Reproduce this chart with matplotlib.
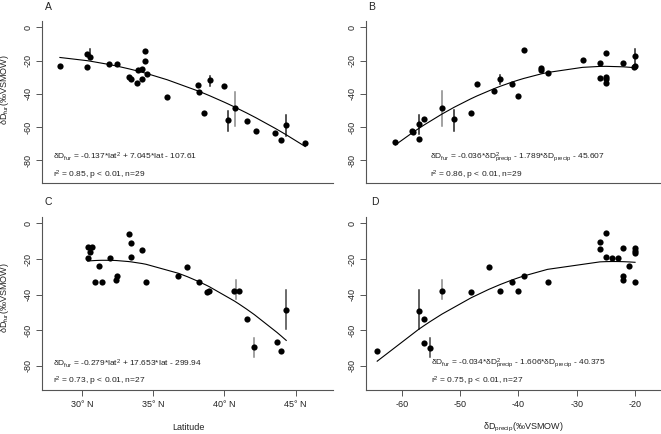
import numpy as np
import matplotlib
matplotlib.use('Agg')
import matplotlib.pyplot as plt

plt.rcParams['font.family'] = ['Liberation Sans', 'DejaVu Sans']
plt.rcParams['mathtext.default'] = 'regular'
plt.rcParams['axes.unicode_minus'] = False

# panel A: latitude vs dD fur
lat_a = [28.43, 30.31, 30.35, 30.54, 31.9, 32.46, 33.3, 33.4, 33.83, 33.94,
         34.18, 34.2, 34.41, 34.41, 34.53, 35.98, 38.16, 38.23, 38.58, 38.95,
         40.0, 40.26, 40.73, 41.55, 42.2, 43.52, 43.94, 44.34, 45.68]
fur_a = [-22.9, -23.8, -15.9, -17.9, -21.8, -21.8, -29.8, -31.0, -33.3, -25.8,
         -25.0, -31.0, -13.9, -19.9, -27.8, -41.7, -34.7, -38.7, -51.6, -31.7,
         -35.0, -55.6, -48.6, -56.0, -62.5, -63.5, -67.5, -58.5, -69.4]
# panel B: dD precip vs dD fur
pre_b = [-61.1, -58.2, -58.1, -57.0, -57.0, -56.1, -53.1, -51.0, -48.2, -47.1,
         -44.1, -43.1, -41.1, -40.1, -39.1, -36.1, -36.1, -35.0, -29.0, -26.0,
         -26.0, -25.0, -25.0, -25.0, -25.0, -22.0, -20.0, -20.0, -20.2]
fur_b = [-69.1, -62.3, -63.1, -58.3, -67.1, -55.2, -48.2, -55.2, -51.2, -34.2,
         -38.2, -31.2, -34.2, -41.2, -13.3, -24.3, -25.3, -27.3, -19.3, -21.3,
         -30.3, -15.3, -29.6, -31.1, -33.3, -21.3, -17.3, -23.3, -24.0]
# panel C: latitude vs dD fur
lat_c = [30.38, 30.66, 30.54, 30.38, 31.17, 30.9, 31.4, 31.95, 32.42, 32.35,
         33.26, 33.42, 33.42, 34.18, 34.48, 36.75, 37.4, 38.2, 38.74, 38.93,
         40.7, 41.0, 41.55, 42.1, 43.7, 44.0, 44.34]
fur_c = [-13.5, -13.5, -16.0, -19.7, -23.8, -32.8, -32.8, -19.7, -29.6, -31.9,
         -6.0, -10.9, -18.8, -15.0, -32.8, -29.6, -24.7, -33.0, -38.8, -37.8,
         -37.8, -37.8, -53.7, -69.7, -66.9, -71.7, -48.7]
# panel D: dD precip vs dD fur
pre_d = [-64.2, -57.1, -56.1, -56.1, -55.1, -53.1, -48.1, -45.1, -43.1, -41.1,
         -40.1, -39.1, -35.0, -26.0, -26.0, -25.0, -25.0, -24.0, -23.0, -22.0,
         -22.0, -22.0, -21.0, -20.0, -20.0, -20.0, -20.0]
fur_d = [-71.7, -49.0, -53.7, -67.0, -70.0, -38.0, -38.8, -24.7, -37.8, -32.8,
         -37.8, -29.8, -32.8, -10.7, -14.6, -5.6, -18.8, -19.7, -19.7, -13.7,
         -29.4, -31.9, -23.8, -14.0, -15.5, -16.5, -32.8]

# error bars: x, low, high, colour
err_a = [(30.54, -19.0, -13.0, '#222222'), (38.95, -35.0, -29.0, '#222222'),
         (40.26, -62.5, -50.0, '#222222'), (40.73, -59.5, -38.7, '#888888'),
         (44.34, -65.5, -52.6, '#222222')]
err_b = [(-57.0, -64.0, -52.5, '#222222'), (-53.1, -59.1, -38.2, '#888888'),
         (-51.0, -62.1, -49.4, '#222222'), (-43.1, -34.2, -28.3, '#222222'),
         (-20.0, -23.0, -12.7, '#222222')]
err_c = [(40.8, -42.7, -31.8, '#888888'), (42.1, -74.9, -64.2, '#888888'),
         (44.34, -59.6, -37.5, '#444444')]
err_d = [(-57.1, -59.6, -37.5, '#333333'), (-53.1, -42.7, -31.8, '#888888'),
         (-55.1, -74.9, -64.2, '#444444')]

# fitted quadratic coefficients (as printed on the chart)
coef_a = [-0.137, 7.045, -107.61]
coef_b = [-0.036, -1.789, -45.607]
coef_c = [-0.279, 17.653, -299.94]
coef_d = [-0.034, -1.606, -40.375]

eq_a = r'δD$_{fur}$ = -0.137*lat$^{2}$ + 7.045*lat - 107.61'
eq_b = r'δD$_{fur}$ = -0.036*δD$^{2}_{precip}$ - 1.789*δD$_{precip}$ - 45.607'
eq_c = r'δD$_{fur}$ = -0.279*lat$^{2}$ + 17.653*lat - 299.94'
eq_d = r'δD$_{fur}$ = -0.034*δD$^{2}_{precip}$ - 1.606*δD$_{precip}$ - 40.375'
stat_a = r'r$^{2}$ = 0.85, p < 0.01, n=29'
stat_b = r'r$^{2}$ = 0.86, p < 0.01, n=29'
stat_c = r'r$^{2}$ = 0.73, p < 0.01, n=27'
stat_d = r'r$^{2}$ = 0.75, p < 0.01, n=27'

lat_ticks = [30, 35, 40, 45]
lat_labels = ['30° N', '35° N', '40° N', '45° N']
pre_ticks = [-60, -50, -40, -30, -20]
y_ticks = [0, -20, -40, -60, -80]

W, H = 661, 434
fig = plt.figure(figsize=(W / 100, H / 100), dpi=100)


def px(x, y):
    return x / W, 1 - y / H


def panel(rect, x, y, errs, coef, eq, stat, xlim, eq_pos, letter, letter_pos):
    ax = fig.add_axes(rect)
    for xe, lo, hi, c in errs:
        ax.plot([xe, xe], [lo, hi], color=c, lw=1.1, zorder=2)
    ax.scatter(x, y, s=20, color='black', zorder=3, linewidths=0)
    xs = np.sort(np.unique(x))
    ax.plot(xs, np.polyval(coef, xs), color='black', lw=0.8, zorder=2)
    ax.set_xlim(*xlim)
    ax.set_ylim(-93.6, 3.6)
    for s in ['top', 'right']:
        ax.spines[s].set_visible(False)
    for s in ['left', 'bottom']:
        ax.spines[s].set_color('#555555')
        ax.spines[s].set_linewidth(0.8)
    ax.set_yticks(y_ticks)
    ax.set_yticklabels([str(v) for v in y_ticks], rotation=90, va='center')
    ax.tick_params(axis='both', length=4, width=0.7, color='#555555',
                   labelsize=6.5, labelcolor='#222222', pad=3)
    fig.text(*px(eq_pos[0], eq_pos[1]), eq, fontsize=6, color='#222222',
             ha='left', va='center')
    fig.text(*px(eq_pos[0], eq_pos[2]), stat, fontsize=6, color='#222222',
             ha='left', va='center')
    fig.text(*px(*letter_pos), letter, fontsize=7.5, color='#222222',
             ha='center', va='center')
    return ax


top_h = (183 - 21.5) / H
bot_h = (390 - 217) / H
lw_ = (333 - 42) / W
rw_ = (661 - 366) / W
xlim_lat = (27.17, 47.63)
xlim_pre = (-66.12, -15.55)

ax_a = panel([42 / W, 1 - 183 / H, lw_, top_h], lat_a, fur_a, err_a, coef_a,
             eq_a, stat_a, xlim_lat, (53, 157, 175.5), 'A', (48.5, 7))
ax_b = panel([366 / W, 1 - 183 / H, rw_, top_h], pre_b, fur_b, err_b, coef_b,
             eq_b, stat_b, xlim_pre, (430, 157, 175.5), 'B', (372, 7))
ax_c = panel([42 / W, 1 - 390 / H, lw_, bot_h], lat_c, fur_c, err_c, coef_c,
             eq_c, stat_c, xlim_lat, (53, 364, 381.7), 'C', (48.5, 202))
ax_d = panel([366 / W, 1 - 390 / H, rw_, bot_h], pre_d, fur_d, err_d, coef_d,
             eq_d, stat_d, xlim_pre, (430.7, 363, 381.7), 'D', (375, 202))

for ax in (ax_a, ax_b):
    ax.set_xticks([])
ax_c.set_xticks(lat_ticks)
ax_c.set_xticklabels(lat_labels)
ax_d.set_xticks(pre_ticks)
ax_d.set_xticklabels([str(v) for v in pre_ticks])

ylab = r'δD$_{fur}$(‰VSMOW)'
fig.text(*px(5, 90), ylab, fontsize=6.5, rotation=90, ha='center', va='center', color='#222222')
fig.text(*px(5, 298), ylab, fontsize=6.5, rotation=90, ha='center', va='center', color='#222222')
fig.text(*px(188, 427), 'Latitude', fontsize=6.5, ha='center', va='center', color='#222222')
fig.text(*px(523, 427), r'δD$_{precip}$(‰VSMOW)', fontsize=6.5, ha='center', va='center',
         color='#222222')

fig.savefig('out.png', dpi=100)
